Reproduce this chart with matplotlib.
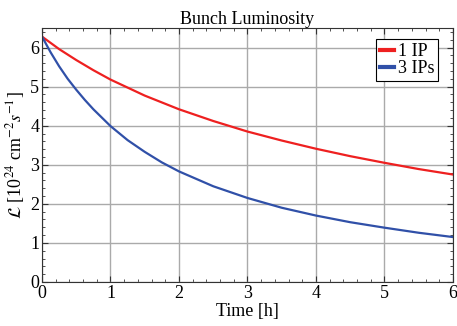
import matplotlib
matplotlib.use('Agg')
import matplotlib.pyplot as plt
from matplotlib.ticker import MultipleLocator

plt.rcParams['font.family'] = ['Liberation Serif', 'DejaVu Serif']
plt.rcParams['mathtext.fontset'] = 'stix'

# Luminosity
t_1ip = [0, 0.25, 0.5, 0.75, 1, 1.5, 2, 2.5, 3, 3.5, 4, 4.5, 5, 5.5, 6]
lum_1ip = [6.28, 5.96, 5.68, 5.42, 5.18, 4.77, 4.42, 4.12, 3.85, 3.62, 3.41, 3.22, 3.05, 2.89, 2.75]
t_3ip = [0, 0.125, 0.25, 0.375, 0.5, 0.625, 0.75, 1, 1.25, 1.5, 1.75, 2, 2.5, 3, 3.5, 4, 4.5, 5, 5.5, 6]
lum_3ip = [6.28, 5.88, 5.52, 5.20, 4.92, 4.66, 4.42, 3.99, 3.63, 3.33, 3.06, 2.83, 2.45, 2.15,
           1.90, 1.70, 1.53, 1.39, 1.26, 1.15]

fig = plt.figure(figsize=(4.57, 3.26), dpi=100)
ax = fig.add_axes([42/457, 1 - 282/326, 411/457, 254/326])

ax.plot(t_1ip, lum_1ip, color='#ee2020', lw=1.6, label='1 IP')
ax.plot(t_3ip, lum_3ip, color='#3050a8', lw=1.6, label='3 IPs')

ax.set_xlim(0, 6)
ax.set_ylim(0, 6.5)
ax.xaxis.set_major_locator(MultipleLocator(1))
ax.xaxis.set_minor_locator(MultipleLocator(0.2))
ax.yaxis.set_major_locator(MultipleLocator(1))
ax.yaxis.set_minor_locator(MultipleLocator(0.2))
ax.grid(True, which='major', color='#aaaaaa', lw=1.0)
ax.set_axisbelow(True)
ax.tick_params(which='both', direction='in', top=True, right=True, color='#333333',
               labelsize=13, pad=2)
ax.tick_params(which='major', length=4)
ax.tick_params(which='minor', length=2)
for s in ax.spines.values():
    s.set_color('#333333')

ax.set_title('Bunch Luminosity', fontsize=13, pad=3)
ax.set_xlabel('Time [h]', fontsize=13, labelpad=1)
ax.set_ylabel(r'$\mathcal{L}$ [10$^{24}$ cm$^{-2}$$s^{-1}$]', fontsize=13, labelpad=2)

leg = ax.legend(loc='upper right', bbox_to_anchor=(0.963, 0.955), fontsize=13,
                handlelength=0.8, handletextpad=0.2, borderpad=0.2, labelspacing=0.0,
                fancybox=False, framealpha=1, edgecolor='black', borderaxespad=0)
leg.get_frame().set_linewidth(0.8)
for h in leg.legend_handles:
    h.set_linewidth(3)

fig.savefig('out.png', dpi=100)
